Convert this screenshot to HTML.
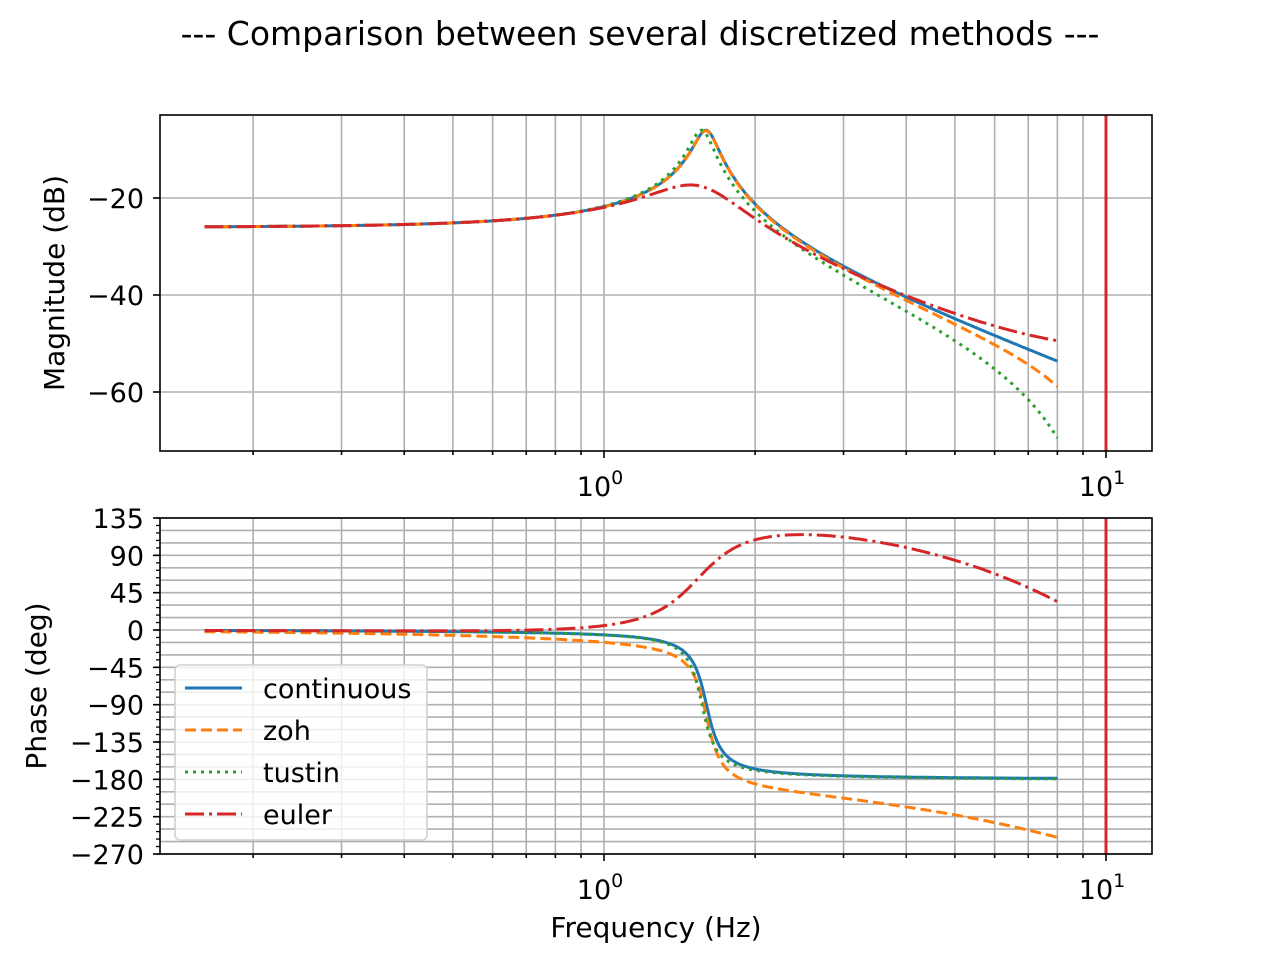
<!DOCTYPE html>
<html><head><meta charset="utf-8"><style>
body{margin:0;background:#fff}
svg{display:block;font-family:"DejaVu Sans","Liberation Sans",sans-serif}
</style></head><body>
<svg id="s" width="1280" height="960" xmlns="http://www.w3.org/2000/svg"></svg>
<script>
const S=document.getElementById('s');let h='';
const L=160,R=1152,T1=115,B1=451,T2=518,B2=854;
const X=f=>604+502*Math.log10(f);
const Y1=m=>198+(-20-m)*4.85;
const Y2=p=>630-p*0.8296;
const c=(r,i)=>({r,i});
const add=(a,b)=>c(a.r+b.r,a.i+b.i),sub=(a,b)=>c(a.r-b.r,a.i-b.i);
const mul=(a,b)=>c(a.r*b.r-a.i*b.i,a.r*b.i+a.i*b.r);
const div=(a,b)=>{const d=b.r*b.r+b.i*b.i;return c((a.r*b.r+a.i*b.i)/d,(a.i*b.r-a.r*b.i)/d)};
const sc=(a,k)=>c(a.r*k,a.i*k);
const cexp=a=>c(Math.exp(a.r)*Math.cos(a.i),Math.exp(a.r)*Math.sin(a.i));
const K=0.05,z=0.05,wn=2*Math.PI*1.6,Ts=0.05;
const G=s=>div(c(K*wn*wn,0),add(add(mul(s,s),sc(s,2*z*wn)),c(wn*wn,0)));
const wd=wn*Math.sqrt(1-z*z);
const p1=c(-z*wn,wd),p2=c(-z*wn,-wd);
const num=c(K*wn*wn,0);
const r0=div(num,mul(p1,p2));
const r1=div(num,mul(p1,sub(p1,p2)));
const r2=div(num,mul(p2,sub(p2,p1)));
const e1=cexp(sc(p1,Ts)),e2=cexp(sc(p2,Ts));
const methods={
continuous:f=>G(c(0,2*Math.PI*f)),
zoh:f=>{const Z=cexp(c(0,2*Math.PI*f*Ts));const one=c(1,0);
 let v=add(add(mul(r0,div(Z,sub(Z,one))),mul(r1,div(Z,sub(Z,e1)))),mul(r2,div(Z,sub(Z,e2))));
 return mul(v,div(sub(Z,one),Z));},
tustin:f=>{const Z=cexp(c(0,2*Math.PI*f*Ts));return G(sc(div(sub(Z,c(1,0)),add(Z,c(1,0))),2/Ts));},
euler:f=>{const Z=cexp(c(0,2*Math.PI*f*Ts));return G(sc(sub(Z,c(1,0)),1/Ts));}
};
const cols={continuous:'#1f77b4',zoh:'#ff7f0e',tustin:'#2ca02c',euler:'#d62728'};
const dash={continuous:'',zoh:'11,5',tustin:'3,5',euler:'19,5,3,5'};
function grid(T,B){
 for(let d=-1;d<=1;d++)for(let k=1;k<10;k++){const f=k*Math.pow(10,d);const x=X(f);if(x<L||x>R)continue;
  h+=`<line x1="${x}" x2="${x}" y1="${T}" y2="${B}" stroke="#b0b0b0" stroke-width="1.6"/>`;
  h+=`<line x1="${x}" x2="${x}" y1="${B}" y2="${B+(k==1?7:4)}" stroke="#000" stroke-width="1.6"/>`;}
}
grid(T1,B1);grid(T2,B2);
const TF=27;
[-20,-40,-60].forEach(m=>{const y=Y1(m);h+=`<line x1="${L}" x2="${R}" y1="${y}" y2="${y}" stroke="#b0b0b0" stroke-width="1.6"/><line x1="${L-7}" x2="${L}" y1="${y}" y2="${y}" stroke="#000" stroke-width="1.6"/><text x="${L-16}" y="${y+10}" font-size="${TF}" text-anchor="end">\u2212${-m}</text>`;});
for(let p=-270;p<=135;p+=15){const y=Y2(p);h+=`<line x1="${L}" x2="${R}" y1="${y}" y2="${y}" stroke="#b0b0b0" stroke-width="1.6"/>`;}
for(let p=-270;p<=135;p+=9){const y=Y2(p);h+=`<line x1="${L-4}" x2="${L}" y1="${y}" y2="${y}" stroke="#000" stroke-width="1.3"/>`;}
for(let p=-270;p<=135;p+=45){const y=Y2(p);h+=`<line x1="${L-7}" x2="${L}" y1="${y}" y2="${y}" stroke="#000" stroke-width="1.6"/><text x="${L-16}" y="${y+10}" font-size="${TF}" text-anchor="end">${p<0?'\u2212'+(-p):p}</text>`;}
h+=`<defs><clipPath id="c1"><rect x="${L}" y="${T1}" width="${R-L}" height="${B1-T1}"/></clipPath><clipPath id="c2"><rect x="${L}" y="${T2}" width="${R-L}" height="${B2-T2}"/></clipPath></defs>`;
for(const m in methods){let a='',b='',prev=null,off=0;
 for(let i=0;i<=600;i++){const f=Math.pow(10,Math.log10(0.16)+i/600*(Math.log10(8)-Math.log10(0.16)));
  const H=methods[m](f);const mag=20*Math.log10(Math.hypot(H.r,H.i));let ph=Math.atan2(H.i,H.r)*180/Math.PI;
  if(prev!==null){while(ph+off-prev>180)off-=360;while(ph+off-prev<-180)off+=360;}
  ph+=off;prev=ph;
  a+=(i?'L':'M')+X(f).toFixed(1)+','+Y1(mag).toFixed(1);b+=(i?'L':'M')+X(f).toFixed(1)+','+Y2(ph).toFixed(1);}
 const st=`fill="none" stroke="${cols[m]}" stroke-width="3" ${dash[m]?'stroke-dasharray="'+dash[m]+'"':''}`;
 h+=`<path d="${a}" ${st} clip-path="url(#c1)"/><path d="${b}" ${st} clip-path="url(#c2)"/>`;}
[[T1,B1],[T2,B2]].forEach(([t,b])=>h+=`<line x1="1106" x2="1106" y1="${t}" y2="${b}" stroke="#d62728" stroke-width="3"/>`);
h+=`<rect x="${L}" y="${T1}" width="${R-L}" height="${B1-T1}" fill="none" stroke="#000" stroke-width="1.6"/>`;
h+=`<rect x="${L}" y="${T2}" width="${R-L}" height="${B2-T2}" fill="none" stroke="#000" stroke-width="1.6"/>`;
[[B1],[B2]].forEach(([b])=>{h+=`<text x="600" y="${b+45}" font-size="${TF}" text-anchor="middle">10<tspan dy="-12" font-size="19">0</tspan></text><text x="1102" y="${b+45}" font-size="${TF}" text-anchor="middle">10<tspan dy="-12" font-size="19">1</tspan></text>`;});
h+=`<text x="656" y="937" font-size="28" text-anchor="middle">Frequency (Hz)</text>`;
h+=`<text transform="translate(64,283) rotate(-90)" font-size="28" text-anchor="middle">Magnitude (dB)</text>`;
h+=`<text transform="translate(46,686) rotate(-90)" font-size="28" text-anchor="middle">Phase (deg)</text>`;
h+=`<text x="640" y="45" font-size="33" text-anchor="middle">--- Comparison between several discretized methods ---</text>`;
h+=`<rect x="175" y="665" width="252" height="175" rx="5" fill="#fff" fill-opacity="0.8" stroke="#d0d0d0" stroke-width="1.6"/>`;
const names=['continuous','zoh','tustin','euler'];
names.forEach((n,i)=>{const y=688+i*42;h+=`<line x1="185" x2="242" y1="${y}" y2="${y}" stroke="${cols[n]}" stroke-width="3" ${dash[n]?'stroke-dasharray="'+dash[n]+'"':''}/><text x="263" y="${y+10}" font-size="27">${n}</text>`;});
S.innerHTML=h;
</script>
</body></html>
